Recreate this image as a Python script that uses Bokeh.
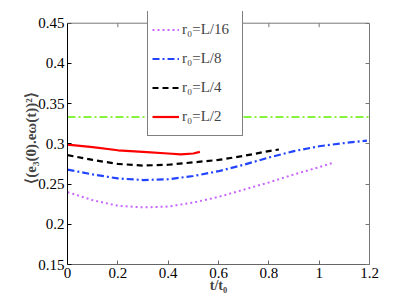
import math
from bokeh.plotting import figure
from bokeh.models import LinearAxis, FixedTicker, Legend, Span
from bokeh.embed import file_html
from bokeh.resources import INLINE

# ---- data ----
t_L16 = [0.0, 0.1, 0.2, 0.3, 0.4, 0.5, 0.6, 0.7, 0.8, 0.9, 1.0, 1.05]
v_L16 = [0.240, 0.230, 0.223, 0.221, 0.222, 0.227, 0.234, 0.243, 0.252, 0.262, 0.271, 0.276]

t_L8 = [0.0, 0.1, 0.2, 0.3, 0.4, 0.5, 0.6, 0.7, 0.8, 0.9, 1.0, 1.1, 1.19]
v_L8 = [0.268, 0.262, 0.257, 0.255, 0.256, 0.260, 0.266, 0.274, 0.283, 0.291, 0.297, 0.301, 0.304]

t_L4 = [0.0, 0.1, 0.2, 0.3, 0.4, 0.5, 0.6, 0.7, 0.8, 0.84]
v_L4 = [0.286, 0.280, 0.275, 0.273, 0.274, 0.277, 0.280, 0.285, 0.291, 0.293]

t_L2 = [0.0, 0.1, 0.2, 0.3, 0.4, 0.45, 0.5, 0.526]
v_L2 = [0.299, 0.296, 0.292, 0.290, 0.288, 0.287, 0.288, 0.290]

t_ref = [0.0, 1.2]
v_ref = [1/3, 1/3]

x_ticks = [0, 0.2, 0.4, 0.6, 0.8, 1.0, 1.2]
x_tick_labels = ["0", "0.2", "0.4", "0.6", "0.8", "1", "1.2"]
y_ticks = [0.15, 0.2, 0.25, 0.3, 0.35, 0.4, 0.45]
y_tick_labels = ["0.15", "0.2", "0.25", "0.3", "0.35", "0.4", "0.45"]
y_lo, y_hi = 0.15, 0.45

legend_labels = ["r\u2080=L/16", "r\u2080=L/8", "r\u2080=L/4", "r\u2080=L/2"]

FONT = "Liberation Serif"
BOX = "#777777"

# frame: axes box spans 0.15..0.45; extra headroom above so the legend can poke out
px_per_unit = 241.5 / (y_hi - y_lo)
y_top = y_hi + 11.7 / px_per_unit

p = figure(width=407, height=306, output_backend="svg", toolbar_location=None,
           x_range=(0, 1.2), y_range=(y_lo, y_top),
           min_border_left=67, min_border_right=38, min_border_top=11, min_border_bottom=42)
p.xgrid.visible = False
p.ygrid.visible = False
p.outline_line_color = None
p.background_fill_color = "white"
p.border_fill_color = "white"

r_ref = p.line(t_ref, v_ref, line_color="#5fef00", line_width=1.6, line_dash="8 3 2 3")
r1 = p.line(t_L16, v_L16, line_color="#c866ff", line_width=2.0, line_dash="2 3")
r2 = p.line(t_L8, v_L8, line_color="#2244ff", line_width=2.2, line_dash="7 3 2 3")
r3 = p.line(t_L4, v_L4, line_color="black", line_width=2.2, line_dash="6 4")
r4 = p.line(t_L2, v_L2, line_color="#ff0000", line_width=2.2)

# top edge of the axes box and its inward ticks
p.add_layout(Span(location=y_hi, dimension="width", line_color=BOX, line_width=1))
p.ray(x=x_ticks, y=[y_hi] * len(x_ticks), length=4, length_units="screen",
      angle=-math.pi / 2, line_color=BOX, line_width=1)

def style_axis(ax, color, labels=True):
    ax.axis_line_color = color
    ax.major_tick_line_color = color
    ax.major_tick_in = 4
    ax.major_tick_out = 0
    ax.minor_tick_line_color = None
    ax.major_label_text_font = FONT
    ax.major_label_text_color = "black"
    if labels:
        ax.major_label_text_font_size = "15px"
    else:
        ax.major_label_text_font_size = "1px"
        ax.major_label_text_alpha = 0
        ax.major_label_standoff = 0

xa = p.xaxis[0]
ya = p.yaxis[0]
xa.ticker = FixedTicker(ticks=x_ticks)
ya.ticker = FixedTicker(ticks=y_ticks)
ya.bounds = (y_lo, y_hi)
xa.major_label_overrides = dict(zip(x_ticks, x_tick_labels))
ya.major_label_overrides = dict(zip(y_ticks, y_tick_labels))
style_axis(xa, "#666666")
style_axis(ya, "black")
xa.major_label_standoff = 3
ya.major_label_standoff = 3

xa.axis_label = "t/t\u2080"
xa.axis_label_text_font = FONT
xa.axis_label_text_font_style = "bold"
xa.axis_label_text_font_size = "14px"
xa.axis_label_standoff = -3

ya.axis_label = "\u27e8(e\u2083(0).e\u03c9(t))\u00b2\u27e9"
ya.axis_label_text_font = FONT
ya.axis_label_text_font_style = "bold"
ya.axis_label_text_font_size = "15px"
ya.axis_label_standoff = -4

right = LinearAxis(ticker=FixedTicker(ticks=y_ticks), bounds=(y_lo, y_hi))
style_axis(right, BOX, labels=False)
p.add_layout(right, "right")

legend = Legend(items=[(legend_labels[0], [r1]), (legend_labels[1], [r2]),
                       (legend_labels[2], [r3]), (legend_labels[3], [r4])],
                location=(80, 128))
legend.label_text_font = FONT
legend.label_text_font_size = "15px"
legend.label_height = 29
legend.glyph_height = 29
legend.glyph_width = 27
legend.label_standoff = 3
legend.label_width = 56
legend.spacing = 0
legend.padding = 4
legend.margin = 0
legend.border_line_color = "black"
legend.border_line_width = 1
legend.background_fill_alpha = 1
p.add_layout(legend, "center")

open("out.html", "w").write(file_html(p, INLINE))
